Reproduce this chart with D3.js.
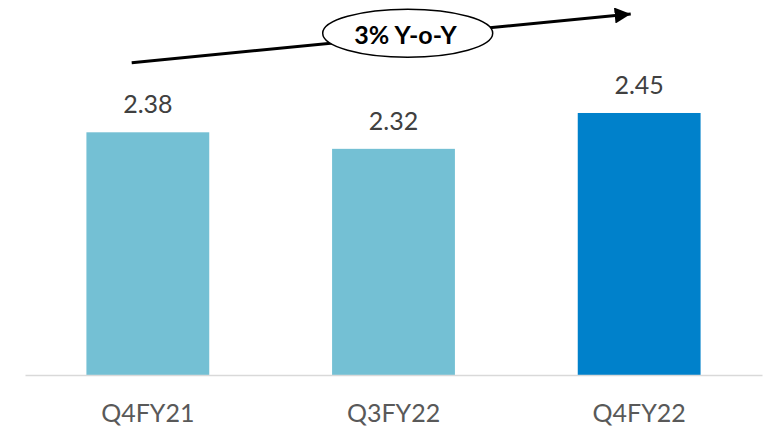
<!DOCTYPE html>
<html>
<head>
<meta charset="utf-8">
<script src="https://cdn.jsdelivr.net/npm/d3@7"></script>
<style>
  html, body { margin: 0; padding: 0; background: #fff; }
  svg { display: block; }
</style>
</head>
<body>
<svg id="chart" width="769" height="430"></svg>
<script>
// Quarterly values
const categories = ["Q4FY21", "Q3FY22", "Q4FY22"];
const values = [2.38, 2.32, 2.45];
const barColors = ["#74c0d4", "#74c0d4", "#0081cb"];
const growthLabel = "3% Y-o-Y";

const svg = d3.select("#chart");
const font = "Lato, 'Open Sans', sans-serif";

const x = d3.scaleBand()
  .domain(categories)
  .range([25, 762])
  .paddingInner(0.5)
  .paddingOuter(0.25);

const y = d3.scaleLinear()
  .domain([1.5, 2.5])
  .range([375, 99.2]);

// Bars
svg.append("g").selectAll("rect")
  .data(categories)
  .join("rect")
  .attr("x", d => x(d))
  .attr("width", x.bandwidth())
  .attr("y", (d, i) => y(values[i]))
  .attr("height", (d, i) => y.range()[0] - y(values[i]))
  .attr("fill", (d, i) => barColors[i]);

// Category axis
const xAxis = svg.append("g")
  .attr("transform", `translate(0,${y.range()[0]})`)
  .call(d3.axisBottom(x).tickSize(0).tickPadding(0));
xAxis.select(".domain")
  .attr("stroke", "#d9d9d9")
  .attr("stroke-width", 1.5);
xAxis.selectAll(".tick text")
  .attr("dy", null)
  .attr("y", 47)
  .attr("fill", "#595959")
  .style("font-family", font)
  .style("font-size", "25px");

// Value labels
svg.append("g").selectAll("text")
  .data(categories)
  .join("text")
  .attr("x", d => x(d) + x.bandwidth() / 2)
  .attr("y", (d, i) => y(values[i]) - 19)
  .attr("text-anchor", "middle")
  .attr("fill", "#404040")
  .style("font-family", font)
  .style("font-size", "25px")
  .text((d, i) => values[i].toFixed(2));

// Growth arrow with callout
const defs = svg.append("defs");
defs.append("marker")
  .attr("id", "arrowhead")
  .attr("viewBox", "0 0 16 16")
  .attr("refX", 16)
  .attr("refY", 8)
  .attr("markerWidth", 16)
  .attr("markerHeight", 16)
  .attr("markerUnits", "userSpaceOnUse")
  .attr("orient", "auto")
  .append("path")
  .attr("d", "M0,0 L16,8 L0,16 Z")
  .attr("fill", "#000");

svg.append("line")
  .attr("x1", 131.7).attr("y1", 62.7)
  .attr("x2", 630.7).attr("y2", 14)
  .attr("stroke", "#000")
  .attr("stroke-width", 3)
  .attr("marker-end", "url(#arrowhead)");

svg.append("ellipse")
  .attr("cx", 407.7).attr("cy", 33.3)
  .attr("rx", 85).attr("ry", 24)
  .attr("fill", "#fff")
  .attr("stroke", "#000")
  .attr("stroke-width", 1.5);

svg.append("text")
  .attr("x", 405.5)
  .attr("y", 44)
  .attr("text-anchor", "middle")
  .attr("fill", "#000")
  .style("font-family", font)
  .style("font-weight", "bold")
  .style("font-size", "25px")
  .text(growthLabel);
</script>
</body>
</html>
